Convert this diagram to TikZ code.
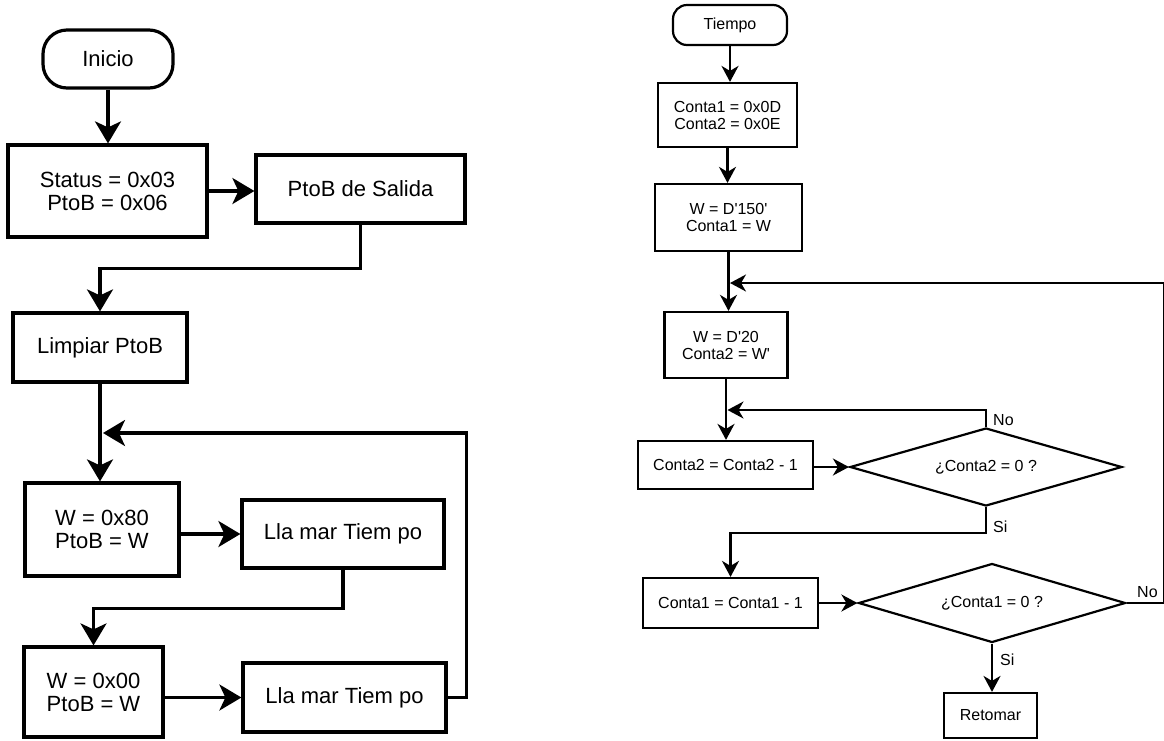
\documentclass[tikz,border=0pt]{standalone}
\usepackage{fontspec}
\setmainfont[Ligatures=TeXOff]{Liberation Sans}
\usetikzlibrary{arrows.meta,shapes.geometric}
\begin{document}
\begin{tikzpicture}[x=1pt,y=1pt,
  lbox/.style={draw,line width=3.2pt,font=\fontsize{22}{23}\selectfont,align=center,inner sep=0pt},
  lterm/.style={lbox,rounded corners=24pt},
  larr/.style={line width=3.2pt,-{Stealth[length=22pt,width=26pt,inset=6pt]}},
  rbox/.style={draw,line width=2.2pt,font=\fontsize{16}{17}\selectfont,align=center,inner sep=0pt},
  rterm/.style={rbox,rounded corners=14pt},
  rdia/.style={rbox,diamond,aspect=3.4},
  rarr/.style={line width=2.2pt,-{Stealth[length=16pt,width=17pt,inset=5pt]}},
  lbl/.style={font=\fontsize{16}{17}\selectfont,inner sep=0pt}]
\useasboundingbox (0,0) rectangle (1164,-740);
\fill[white] (0,0) rectangle (1164,-740);

% main program
\node[lterm,minimum width=130,minimum height=58] (inicio) at (108,-59) {Inicio};
\node[lbox,minimum width=199,minimum height=92] (status) at (107.5,-191) {Status = 0x03\\PtoB = 0x06};
\node[lbox,minimum width=209,minimum height=68] (salida) at (360.5,-189) {PtoB de Salida};
\node[lbox,minimum width=174,minimum height=69] (limpiar) at (100,-347.5) {Limpiar PtoB};
\node[lbox,minimum width=154,minimum height=93] (wA) at (102,-529.5) {W = 0x80\\PtoB = W};
\node[lbox,minimum width=202,minimum height=68] (llamarA) at (343,-534) {Lla mar Tiem po};
\node[lbox,minimum width=139,minimum height=90] (wB) at (93.5,-692) {W = 0x00\\PtoB = W};
\node[lbox,minimum width=203,minimum height=69] (llamarB) at (344.5,-697.5) {Lla mar Tiem po};
\coordinate (jA) at (103,-433);

\draw[larr] (inicio.south) -- (inicio.south |- status.north);
\draw[larr] (status.east) -- (status.east -| salida.west);
\draw[larr] (salida.south) -- ++(0,-44) -| (limpiar.north);
\draw[larr] (limpiar.south) -- (limpiar.south |- wA.north);
\draw[larr] (wA.east |- llamarA.west) -- (llamarA.west);
\draw[larr] (llamarA.south) -- ++(0,-39) -| (wB.north);
\draw[larr] (wB.east |- llamarB.west) -- (llamarB.west);
\draw[larr] (llamarB.east) -- ++(19,0) |- (jA);

% delay routine
\node[rterm,minimum width=114,minimum height=40] (tiempo) at (730,-25) {Tiempo};
\node[rbox,minimum width=139,minimum height=64] (c0) at (727.5,-115) {Conta1 = 0x0D\\Conta2 = 0x0E};
\node[rbox,minimum width=147,minimum height=67] (c150) at (728.5,-217.5) {W = D'150'\\Conta1 = W};
\node[rbox,minimum width=123,minimum height=66] (c20) at (726,-345) {W = D'20\\Conta2 = W'};
\node[rbox,minimum width=175,minimum height=48] (dec2) at (725.5,-465) {Conta2 = Conta2 - 1};
\node[rdia,minimum width=272,minimum height=78] (q2) at (986,-467) {¿Conta2 = 0 ?};
\node[rbox,minimum width=175,minimum height=50] (dec1) at (730.5,-603) {Conta1 = Conta1 - 1};
\node[rdia,minimum width=267,minimum height=79] (q1) at (992,-603) {¿Conta1 = 0 ?};
\node[rbox,minimum width=93,minimum height=45] (ret) at (990.5,-715.5) {Retomar};
\coordinate (jB) at (730,-283);
\coordinate (jC) at (727.5,-410);

\draw[rarr] (tiempo.south) -- (tiempo.south |- c0.north);
\draw[rarr] (c0.south) -- (c0.south |- c150.north);
\draw[rarr] (c150.south) -- (c150.south |- c20.north);
\draw[rarr] (c20.south) -- (c20.south |- dec2.north);
\draw[rarr] (dec2.east |- q2.west) -- (q2.west);
\draw[rarr] (q2.north) |- (jC);
\draw[rarr] (q2.south) -- ++(0,-26) -| (dec1.north);
\draw[rarr] (dec1.east |- q1.west) -- (q1.west);
\draw[rarr] (q1.east) -- ++(37,0) |- (jB);
\draw[rarr] (q1.south) -- (q1.south |- ret.north);

\node[lbl,anchor=west] (no2) at (993,-420) {No};
\node[lbl,anchor=west] (si2) at (993,-527) {Si};
\node[lbl,anchor=west] (no1) at (1137,-592) {No};
\node[lbl,anchor=west] (si1) at (1000,-660) {Si};
\end{tikzpicture}
\end{document}
